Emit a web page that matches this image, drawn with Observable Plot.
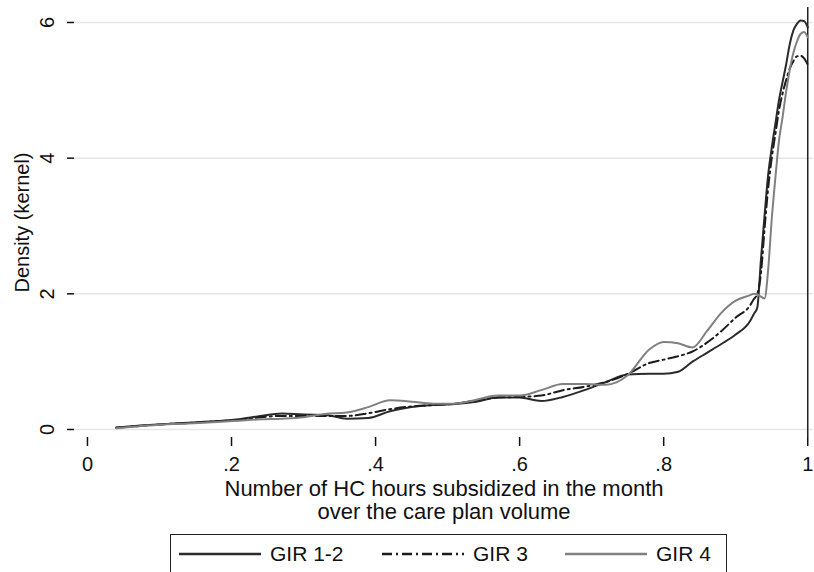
<!DOCTYPE html>
<html><head><meta charset="utf-8">
<script src="https://cdn.jsdelivr.net/npm/d3@7"></script>
<script src="https://cdn.jsdelivr.net/npm/@observablehq/plot@0.6"></script>
<style>
html,body{margin:0;padding:0;background:#fff;}
body{width:814px;height:572px;overflow:hidden;font-family:"Liberation Sans",Arial,sans-serif;color:#111;}
#wrap{position:relative;width:814px;height:572px;}
#chart svg{display:block;}
#legend{position:absolute;left:170px;top:534px;width:557px;height:52px;border:1.5px solid #222;box-sizing:border-box;display:flex;align-items:center;padding-left:8px;padding-bottom:12px;font-size:21px;white-space:nowrap;}
.item{display:flex;align-items:center;flex:0 0 auto;}
.item svg{margin-right:9px;flex:0 0 auto;}
</style></head>
<body><div id="wrap"><div id="chart"></div><div id="legend"></div></div>
<script>
const xGrid = [0.04,0.07,0.10,0.14,0.18,0.21,0.24,0.27,0.30,0.33,0.36,0.39,0.42,0.45,0.48,0.51,0.54,0.57,0.60,0.63,0.66,0.69,0.72,0.75,0.78,0.80,0.82,0.84,0.86,0.88,0.90,0.92,0.925,0.93,0.935,0.94,0.945,0.95,0.955,0.96,0.965,0.97,0.975,0.98,0.985,0.99,0.995,1.0];
const gir12 = [0.03,0.055,0.075,0.10,0.125,0.15,0.20,0.235,0.22,0.215,0.16,0.17,0.27,0.33,0.36,0.375,0.41,0.47,0.47,0.42,0.48,0.58,0.70,0.81,0.82,0.82,0.85,1.00,1.13,1.26,1.40,1.60,1.70,1.80,2.50,3.15,3.75,4.15,4.50,4.85,5.12,5.38,5.68,5.88,5.98,6.03,6.02,5.93];
const gir3 = [0.025,0.05,0.075,0.095,0.12,0.14,0.18,0.20,0.20,0.20,0.20,0.24,0.30,0.34,0.36,0.38,0.43,0.47,0.48,0.50,0.58,0.63,0.70,0.82,0.98,1.03,1.08,1.15,1.28,1.45,1.65,1.83,1.92,2.00,2.30,2.95,3.55,4.00,4.35,4.70,4.95,5.15,5.32,5.43,5.50,5.51,5.47,5.38];
const gir4 = [0.02,0.045,0.07,0.09,0.11,0.13,0.15,0.16,0.18,0.23,0.25,0.33,0.43,0.41,0.38,0.38,0.44,0.50,0.50,0.58,0.67,0.67,0.66,0.80,1.18,1.29,1.27,1.21,1.45,1.72,1.90,1.98,2.00,1.99,1.96,1.93,2.35,3.10,3.70,4.25,4.60,4.98,5.30,5.55,5.72,5.83,5.86,5.78];
const seriesNames = ["GIR 1-2","GIR 3","GIR 4"];
const seriesColors = ["#2b2b2b","#1c1c1c","#808080"];
const seriesDash = [null,"10,4,2,4",null];
const xTicks = [0,0.2,0.4,0.6,0.8,1];
const xTickLabels = ["0",".2",".4",".6",".8","1"];
const yTicks = [0,2,4,6];
const yTickLabels = ["0","2","4","6"];
const xTitle = "Number of HC hours subsidized in the month\nover the care plan volume";
const yTitle = "Density (kernel)";

const seriesValues = [gir12, gir3, gir4];
const rows = seriesNames.map((s, k) => xGrid.map((x, i) => ({series: s, x, y: seriesValues[k][i]})));

const chart = Plot.plot({
  width: 814, height: 534,
  marginLeft: 74, marginRight: 1, marginTop: 7, marginBottom: 97,
  x: {domain: [-0.018, 1.008]},
  y: {domain: [-0.118, 6.221]},
  style: {fontFamily: '"Liberation Sans", Arial, sans-serif', fontSize: "20px", color: "#111", background: "#fff"},
  marks: [
    Plot.gridY(yTicks, {stroke: "#e6e6e6", strokeOpacity: 1, strokeWidth: 1.5}),
    Plot.axisY(yTicks, {tickFormat: d => yTickLabels[yTicks.indexOf(d)], tickSize: 7, tickRotate: -90, tickPadding: 14, strokeWidth: 1.5, label: yTitle, labelAnchor: "center", labelArrow: "none", labelOffset: 60, line: true, fontSize: 20}),
    Plot.axisX(xTicks, {tickFormat: d => xTickLabels[xTicks.indexOf(d)], tickSize: 9, tickPadding: 10, strokeWidth: 1.5, label: null, line: true, fontSize: 20}),
    Plot.ruleX([1], {stroke: "#222", strokeWidth: 1.5}),
    ...rows.map((r, k) => Plot.line(r, {x: "x", y: "y", stroke: seriesColors[k], strokeWidth: 2, strokeDasharray: seriesDash[k] || undefined, curve: "monotone-x"})),
    Plot.text([xTitle], {text: d => d, frameAnchor: "bottom", dy: 42, lineAnchor: "top", fontSize: 22, lineHeight: 1.05})
  ]
});
document.getElementById("chart").appendChild(chart);

const legend = document.getElementById("legend");
const itemWidths = [203, 183, 160];
seriesNames.forEach((s, k) => {
  const item = document.createElement("div");
  item.className = "item";
  item.style.width = itemWidths[k] + "px";
  const ns = "http://www.w3.org/2000/svg";
  const svg = document.createElementNS(ns, "svg");
  svg.setAttribute("width", 82); svg.setAttribute("height", 10);
  const ln = document.createElementNS(ns, "line");
  ln.setAttribute("x1", 0); ln.setAttribute("x2", 82); ln.setAttribute("y1", 5); ln.setAttribute("y2", 5);
  ln.setAttribute("stroke", seriesColors[k]); ln.setAttribute("stroke-width", 2.5);
  if (seriesDash[k]) ln.setAttribute("stroke-dasharray", seriesDash[k]);
  svg.appendChild(ln);
  const t = document.createElement("span");
  t.textContent = s;
  item.appendChild(svg); item.appendChild(t);
  legend.appendChild(item);
});
</script></body></html>
